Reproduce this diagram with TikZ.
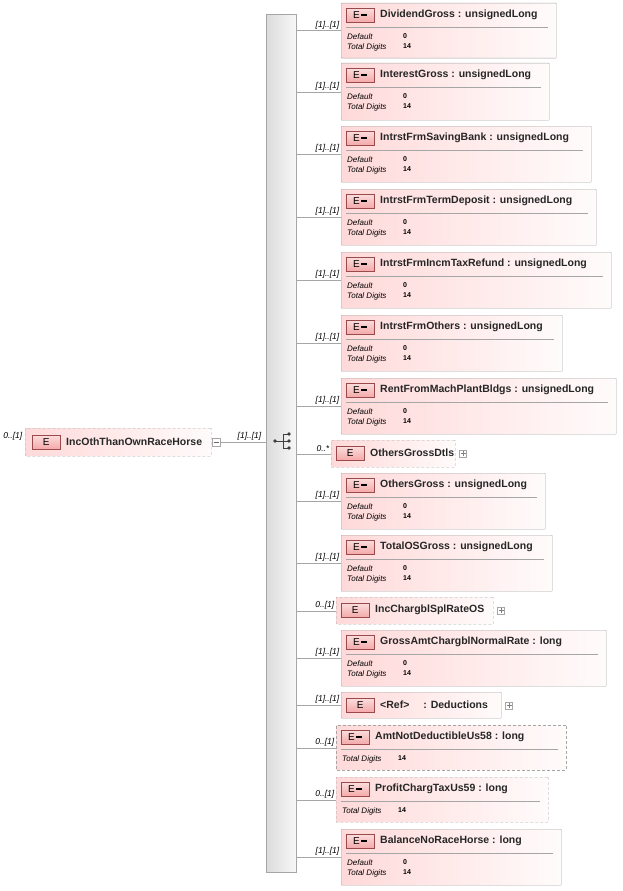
\documentclass[tikz,border=0pt]{standalone}
\usepackage{fontspec}
\setmainfont{Liberation Sans}
\usetikzlibrary{positioning,calc}
\definecolor{boxpink}{HTML}{FFD9D9}
\definecolor{boxline}{HTML}{A6A6A6}
\definecolor{badge}{HTML}{F4A9A9}
\definecolor{badgeline}{HTML}{9A4A4A}
\tikzstyle{elem}=[draw=boxline, left color=boxpink, right color=white!90!boxpink, anchor=north west, inner sep=0, rounded corners=0.5pt]
\tikzstyle{opt}=[dashed, dash pattern=on 3pt off 2pt]
\tikzstyle{badgebox}=[draw=badgeline, top color=white!60!badge, bottom color=badge, minimum width=28pt, minimum height=14pt, inner sep=0, anchor=north west, font=\fontsize{10}{10}\selectfont]
\tikzstyle{ename}=[anchor=west, inner sep=0, font=\bfseries\fontsize{10.5}{12}\selectfont, text=black!85]
\tikzstyle{card}=[anchor=south east, inner sep=1.5pt, text=black, font=\itshape\fontsize{8.5}{9}\selectfont]
\tikzstyle{facet}=[anchor=west, inner sep=0, font=\itshape\fontsize{8}{9}\selectfont]
\tikzstyle{fval}=[anchor=west, inner sep=0, font=\bfseries\fontsize{7}{8}\selectfont]
\tikzstyle{pm}=[draw=boxline, fill=white, minimum size=8pt, inner sep=0]

\begin{document}
\begin{tikzpicture}[x=1pt,y=-1pt]
    \useasboundingbox (0,0) rectangle (623,891);

    % sequence bar
    \node (seq)[draw=boxline, left color=black!14, right color=black!3, minimum width=30pt, minimum height=858pt, anchor=north west, inner sep=0] at (266,14) {};
    \fill[black!75] (275,441) circle (1.8pt) (289,434) circle (1.8pt) (289,441) circle (1.8pt) (289,448) circle (1.8pt);
    \draw[black!75, line width=0.8pt] (275,441) -- (289,441) (283,434) -- (283,448) (283,434) -- (289,434) (283,448) -- (289,448);

    % root element
    \node (root)[elem, opt, minimum width=186pt, minimum height=28pt] at (25,428) {};
    \node (rootE)[badgebox] at (32,435) {E};
    \node (rootName)[ename] at (66,442) {IncOthThanOwnRaceHorse};
    \node (rootCard)[card] at (24,442) {0..[1]};
    \node (rootMinus)[pm] at (216,442) {};
    \draw[black!60] (213.5,442) -- (218.5,442);
    \draw[boxline] (rootMinus) -- (seq.west |- rootMinus) node[card, pos=1, xshift=-3pt] {[1]..[1]};

    % child elements: x0/y0/x1/y1/kind/style/cardinality/text
    \foreach \i/\xa/\ya/\xb/\yb/\kind/\st/\cd/\txt in {
        1/341/3/556/58/F/solid/[1]..[1]/DividendGross : unsignedLong,
        2/341/63/549/120/F/solid/[1]..[1]/InterestGross : unsignedLong,
        3/341/126/591/182/F/solid/[1]..[1]/IntrstFrmSavingBank : unsignedLong,
        4/341/189/596/245/F/solid/[1]..[1]/IntrstFrmTermDeposit : unsignedLong,
        5/341/252/611/308/F/solid/[1]..[1]/IntrstFrmIncmTaxRefund : unsignedLong,
        6/341/315/562/371/F/solid/[1]..[1]/IntrstFrmOthers : unsignedLong,
        7/341/378/616/434/F/solid/[1]..[1]/RentFromMachPlantBldgs : unsignedLong,
        8/331/440/455/467/C/opt/0..*/OthersGrossDtls,
        9/341/473/545/529/F/solid/[1]..[1]/OthersGross : unsignedLong,
        10/341/535/552/591/F/solid/[1]..[1]/TotalOSGross : unsignedLong,
        11/336/597/493/624/C/opt/0..[1]/IncChargblSplRateOS,
        12/341/630/606/686/F/solid/[1]..[1]/GrossAmtChargblNormalRate : long,
        13/341/692/501/718/C/solid/[1]..[1]/<Ref>\hspace{14pt}: Deductions,
        14/336/725/566/770/T/opt/0..[1]/AmtNotDeductibleUs58 : long,
        15/336/777/548/822/T/opt/0..[1]/ProfitChargTaxUs59 : long,
        16/341/829/561/885/F/solid/[1]..[1]/BalanceNoRaceHorse : long}{
        \node (el\i)[elem, \st, minimum width={\xb-\xa}, minimum height={\yb-\ya}] at (\xa,\ya) {};
        \draw[boxline] (seq.east |- el\i.west) -- (el\i.west);
        \node (card\i)[card] at (el\i.west) {\cd};
        \if\kind C
            \node (bdg\i)[badgebox] at (\xa+5,\ya+6) {E};
            \node (name\i)[ename] at (\xa+39,\ya+13) {\txt};
            \node (plus\i)[pm, minimum size=7pt] at (\xb+8,\ya+13.5) {};
            \draw[black!50] (\xb+5.5,\ya+13.5) -- (\xb+10.5,\ya+13.5) (\xb+8,\ya+11) -- (\xb+8,\ya+16);
        \else
            \node (bdg\i)[badgebox] at (\xa+5,\ya+5) {E\,\rule[2.5pt]{6pt}{2pt}};
            \node (name\i)[ename] at (\xa+39,\ya+12) {\txt};
            \draw[boxline] (\xa+5,\ya+24) -- (\xb-8,\ya+24);
            \if\kind F
                \node (dlab\i)[facet] at (\xa+6,\ya+34) {Default};
                \node (dval\i)[fval] at (\xa+62,\ya+33.5) {0};
                \node (tlab\i)[facet] at (\xa+6,\ya+44) {Total Digits};
                \node (tval\i)[fval] at (\xa+62,\ya+43.5) {14};
            \else
                \node (tlab\i)[facet] at (\xa+6,\ya+34) {Total Digits};
                \node (tval\i)[fval] at (\xa+62,\ya+33.5) {14};
            \fi
        \fi
    }
\end{tikzpicture}
\end{document}
